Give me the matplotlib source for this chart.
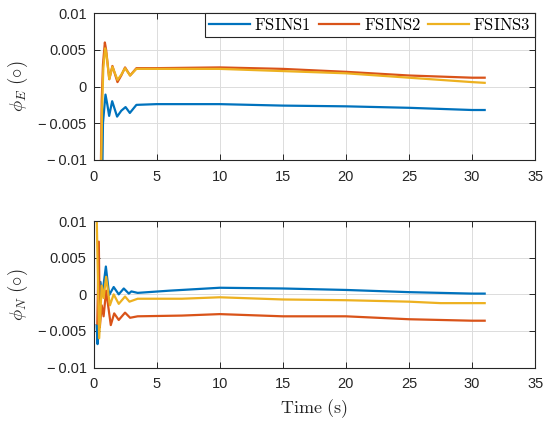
import matplotlib
matplotlib.use("Agg")
import matplotlib.pyplot as plt
from matplotlib.ticker import FixedLocator, FuncFormatter

plt.rcParams['mathtext.fontset'] = 'cm'
plt.rcParams['font.family'] = ['Liberation Sans', 'DejaVu Sans']

series_names = ['FSINS1', 'FSINS2', 'FSINS3']
colors = ['#0072BD', '#D95319', '#EDB120']

# Top panel (phi_E): time and value breakpoints
tE1 = [0.70, 0.75, 0.85, 0.95, 1.10, 1.24, 1.48, 1.87, 2.20, 2.54, 2.88, 3.40, 5.0, 10.0, 15.0, 20.0, 25.0, 30.0, 31.0]
vE1 = [-0.0115, -0.0050, -0.0030, -0.0011, -0.0025, -0.0040, -0.0020, -0.0041, -0.0033, -0.0028, -0.0036, -0.0025, -0.0024, -0.0024, -0.0026, -0.0027, -0.0029, -0.0032, -0.0032]
tE2 = [0.58, 0.65, 0.75, 0.90, 1.00, 1.25, 1.50, 1.90, 2.20, 2.50, 2.90, 3.40, 5.0, 10.0, 15.0, 20.0, 25.0, 30.0, 31.0]
vE2 = [-0.0115, -0.0020, 0.0030, 0.0060, 0.0050, 0.0010, 0.0028, 0.0006, 0.0015, 0.0026, 0.0015, 0.0025, 0.0025, 0.0026, 0.0024, 0.0020, 0.0015, 0.0012, 0.0012]
tE3 = [0.60, 0.68, 0.78, 0.92, 1.02, 1.25, 1.50, 1.90, 2.20, 2.50, 2.90, 3.40, 5.0, 10.0, 15.0, 20.0, 25.0, 30.0, 31.0]
vE3 = [-0.0115, -0.0030, 0.0025, 0.0052, 0.0045, 0.0010, 0.0027, 0.0009, 0.0016, 0.0025, 0.0015, 0.0024, 0.0024, 0.0024, 0.0021, 0.0018, 0.0012, 0.0006, 0.0005]

# Bottom panel (phi_N)
tN1 = [0.25, 0.32, 0.40, 0.55, 0.70, 0.98, 1.24, 1.60, 2.00, 2.40, 2.80, 3.00, 3.50, 6.0, 10.0, 15.0, 20.0, 25.0, 30.0, 31.0]
vN1 = [-0.0042, -0.0068, -0.0040, 0.0017, -0.0001, 0.0038, -0.0001, 0.0010, 0.0000, 0.0008, 0.0001, 0.0004, 0.0002, 0.0005, 0.0009, 0.0008, 0.0006, 0.0003, 0.0001, 0.0001]
tN2 = [0.30, 0.42, 0.50, 0.65, 0.80, 1.00, 1.37, 1.64, 2.00, 2.50, 2.90, 3.50, 7.0, 10.0, 15.0, 20.0, 25.0, 30.0, 31.0]
vN2 = [-0.0040, 0.0072, -0.0045, -0.0015, -0.0030, 0.0005, -0.0042, -0.0026, -0.0035, -0.0025, -0.0032, -0.0030, -0.0029, -0.0027, -0.0030, -0.0030, -0.0034, -0.0036, -0.0036]
tN3 = [0.25, 0.35, 0.45, 0.65, 0.80, 1.00, 1.30, 1.60, 2.00, 2.50, 2.85, 3.50, 7.0, 10.0, 15.0, 20.0, 25.0, 27.5, 31.0]
vN3 = [0.0110, 0.0020, -0.0060, 0.0012, -0.0005, 0.0024, -0.0015, 0.0000, -0.0013, -0.0003, -0.0010, -0.0006, -0.0006, -0.0004, -0.0007, -0.0008, -0.0010, -0.0012, -0.0012]

x_ticks = [0, 5, 10, 15, 20, 25, 30, 35]
y_ticks = [-0.01, -0.005, 0, 0.005, 0.01]


def fmt(v, pos):
    if abs(v) < 1e-12:
        return '0'
    s = ('%g' % abs(v))
    return ('\u2212\u2009' + s) if v < 0 else s


fig = plt.figure(figsize=(5.5, 4.22), dpi=100)
ax1 = fig.add_axes([0.170, 0.621, 0.803, 0.348])
ax2 = fig.add_axes([0.170, 0.129, 0.803, 0.347])

panels = [
    (ax1, [(tE1, vE1), (tE2, vE2), (tE3, vE3)], r'$\phi_E\ (\circ)$'),
    (ax2, [(tN1, vN1), (tN2, vN2), (tN3, vN3)], r'$\phi_N\ (\circ)$'),
]

for ax, data, ylabel in panels:
    for (t, v), c, name in zip(data, colors, series_names):
        ax.plot(t, v, color=c, lw=1.6, label=r'$\mathrm{%s}$' % name)
    ax.set_xlim(0, 35)
    ax.set_ylim(-0.01, 0.01)
    ax.xaxis.set_major_locator(FixedLocator(x_ticks))
    ax.yaxis.set_major_locator(FixedLocator(y_ticks))
    ax.yaxis.set_major_formatter(FuncFormatter(fmt))
    ax.grid(True, color='#dcdcdc', lw=0.7)
    ax.set_axisbelow(True)
    ax.tick_params(direction='in', top=True, right=True, labelsize=10.5,
                   colors='#262626', length=4, width=0.7)
    ax.tick_params(axis='x', pad=7)
    ax.tick_params(axis='y', pad=5)
    for sp in ax.spines.values():
        sp.set_color('#262626')
        sp.set_linewidth(0.8)
    ax.set_ylabel(ylabel, fontsize=13.5, color='#262626', labelpad=6)

ax2.set_xlabel(r'$\mathrm{Time\ (s)}$', fontsize=13, color='#262626', labelpad=4)

leg = ax1.legend(loc='upper right', ncol=3, fontsize=12, frameon=True,
                 fancybox=False, edgecolor='#262626', borderaxespad=0.0,
                 handlelength=2.45, columnspacing=0.45, handletextpad=0.25,
                 borderpad=0.25, framealpha=1)
leg.get_frame().set_linewidth(0.8)

fig.savefig('out.png', dpi=100)
